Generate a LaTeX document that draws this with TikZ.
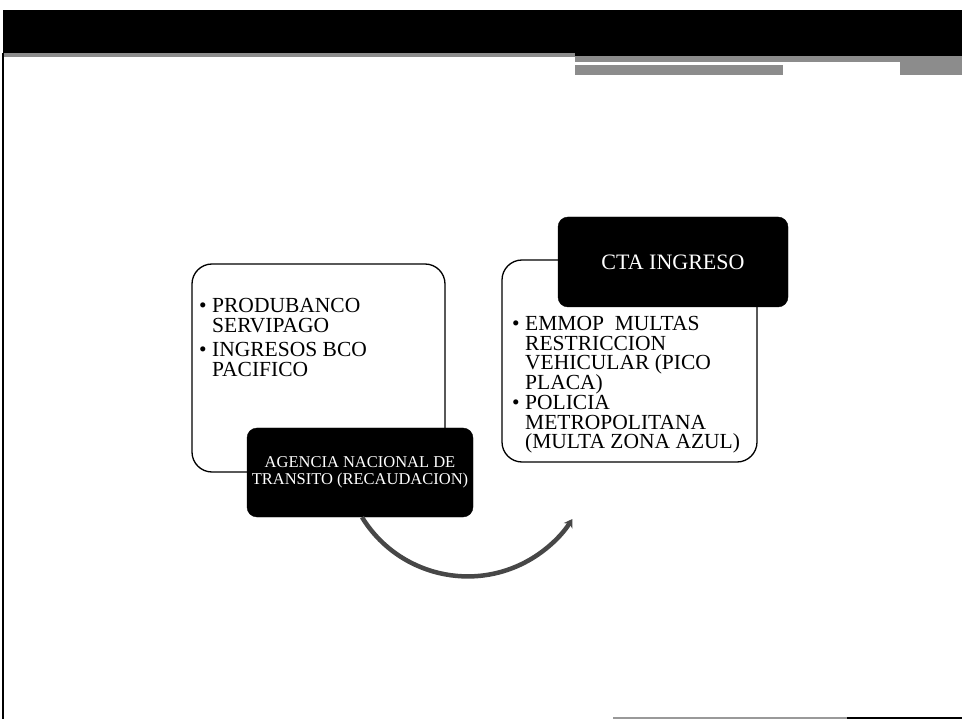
\documentclass[tikz,border=0pt]{standalone}
\usepackage{fontspec}
\setmainfont{Liberation Serif}
\usetikzlibrary{arrows.meta}
\begin{document}
\begin{tikzpicture}[x=1pt,y=-1pt,
  lightbox/.style={draw=black, line width=1.3pt, fill=white, rounded corners=20pt, inner sep=0pt},
  darkbox/.style={draw=black, fill=black, rounded corners=10pt, inner sep=0pt, text=white, align=center},
  listtext/.style={inner sep=0pt, align=left, font=\fontsize{21.5}{19.5}\selectfont, anchor=north west},
  flow/.style={line width=4.5pt, draw=black!72, -{Stealth[length=8pt,width=10pt]}},
  band/.style={fill=black!45}
]
\useasboundingbox (0,0) rectangle (962,719);
% header
\fill[black] (3,10) rectangle (962,53);
\fill[black] (575,53) rectangle (962,56);
\fill[band] (3,53) rectangle (575,57);
\fill[band] (575,56) rectangle (900,62);
\fill[band] (575,65) rectangle (783,75);
\fill[band] (900,56) rectangle (962,75);
% frame lines
\draw[line width=2pt] (3,53) -- (3,719);
\draw[line width=2pt, black!40] (613,718) -- (847,718);
\draw[line width=2.5pt] (847,718) -- (962,718);

% left group
\node[lightbox, minimum width=253pt, minimum height=208pt] (leftbox) at (318.5,368) {};
\node[listtext] (lefttext) at (199,298.5) {\makebox[13pt][l]{\textbullet}PRODUBANCO\\
\hspace*{13pt}SERVIPAGO\\[5pt]
\makebox[13pt][l]{\textbullet}INGRESOS BCO\\
\hspace*{13pt}PACIFICO};
\node[darkbox, minimum width=226pt, minimum height=89pt, font=\fontsize{16.5}{17}\selectfont] (agencia) at (360,472.5) {AGENCIA NACIONAL DE\\TRANSITO (RECAUDACION)};

% right group
\node[lightbox, minimum width=255pt, minimum height=202pt] (rightbox) at (629.5,361) {};
\node[listtext] (righttext) at (512,316.5) {\makebox[13pt][l]{\textbullet}EMMOP\ \ MULTAS\\
\hspace*{13pt}RESTRICCION\\
\hspace*{13pt}VEHICULAR (PICO\\
\hspace*{13pt}PLACA)\\[1pt]
\makebox[13pt][l]{\textbullet}POLICIA\\
\hspace*{13pt}METROPOLITANA\\
\hspace*{13pt}(MULTA ZONA AZUL)};
\node[darkbox, minimum width=230pt, minimum height=90pt, font=\fontsize{22}{24}\selectfont] (cta) at (673,262) {CTA INGRESO};

% connector
\draw[flow] (agencia.south) ++(2,0) coordinate (arcstart) arc[start angle=148.5, end angle=32.5, radius=124];
\end{tikzpicture}
\end{document}
